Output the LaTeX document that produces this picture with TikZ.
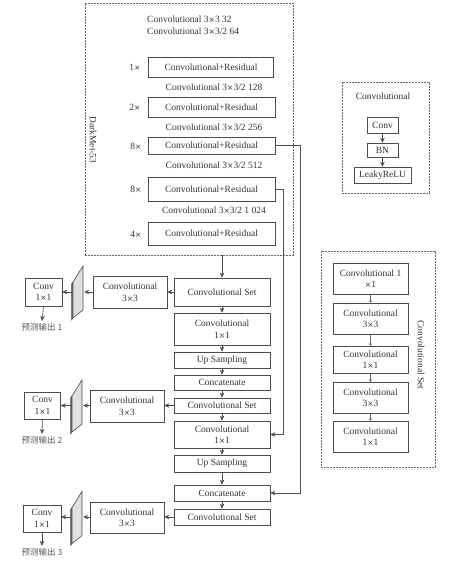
\documentclass[tikz,border=0pt]{standalone}
\usepackage{fontspec}
\setmainfont{Liberation Serif}
\newfontfamily\cjk{Noto Sans CJK SC}
\newfontfamily\symf{DejaVu Sans}[Scale=0.8]
\newcommand\tmx{{\symf ×}}
\usetikzlibrary{arrows.meta,calc}
\newcommand\myslab[1]{%
  \filldraw[fill=black!55,draw=black!70,line width=0.5pt]
    ($(#1.center)+(-5,-10)$) -- ($(#1.center)+(-6.5,-8)$) -- ($(#1.center)+(-6.5,28)$) -- ($(#1.center)+(-5,26)$) -- cycle;
  \filldraw[fill=black!12,draw=black!70,line width=0.6pt]
    ($(#1.center)+(-5,-10)$) -- ($(#1.center)+(5,-26)$) -- ($(#1.center)+(5,18)$) -- ($(#1.center)+(-5,26)$) -- cycle;}
\begin{document}
\begin{tikzpicture}[x=1pt,y=-1pt,
  every node/.style={font=\fontsize{9.5}{11.5}\selectfont, text=black!80},
  box/.style 2 args={draw=black!70, line width=0.6pt, inner sep=0pt, align=center,
    minimum width=#1, minimum height=#2},
  dashbox/.style={draw=black!60, line width=0.6pt, dash pattern=on 1.6pt off 1.4pt,
    inner sep=0pt, minimum width=#1},
  plain/.style={inner sep=0pt},
  slabn/.style={inner sep=0pt, minimum width=12pt, minimum height=52pt},
  cjkt/.style={font=\cjk\fontsize{8.5}{10}\selectfont, inner sep=2pt, text=black!65},
  arr/.style={draw=black!70, line width=0.6pt, -{Stealth[length=5pt,width=4.5pt]}},
  tarr/.style={draw=black!60, line width=0.5pt, -{To[length=2.5pt,width=3.5pt]}},
  line/.style={draw=black!70, line width=0.6pt}
]
\fill[white] (0,0) rectangle (450,563);
\useasboundingbox (0,0) rectangle (450,563);

% ---------------- DarkNet-53 ----------------
\node[dashbox=208, minimum height=252] (dark) at (189,129) {};
\node[plain, rotate=-90] (darklab) at (93,140) {DarkMet-53};
\node[plain, anchor=west] (t1) at (147,19) {Convolutional 3\tmx3 32};
\node[plain, anchor=west] (t2) at (147,31) {Convolutional 3\tmx3/2 64};
\node[box={125}{20}] (r1) at (211,67) {Convolutional+Residual};
\node[plain] (m1) at (135,67) {1\tmx};
\node[plain] (t3) at (214,87) {Convolutional 3\tmx3/2 128};
\node[box={127}{20}] (r2) at (211.5,107) {Convolutional+Residual};
\node[plain] (m2) at (135,107) {2\tmx};
\node[plain] (t4) at (214,127) {Convolutional 3\tmx3/2 256};
\node[box={127}{17}] (r3) at (211.5,145.5) {Convolutional+Residual};
\node[plain] (m3) at (136,146) {8\tmx};
\node[plain] (t5) at (214,165) {Convolutional 3\tmx3/2 512};
\node[box={127}{24}] (r4) at (211.5,189) {Convolutional+Residual};
\node[plain] (m4) at (136,189) {8\tmx};
\node[plain] (t6) at (214,210) {Convolutional 3\tmx3/2 1 024};
\node[box={127}{23}] (r5) at (211.5,233.5) {Convolutional+Residual};
\node[plain] (m5) at (136,234) {4\tmx};

% ---------------- Convolutional legend ----------------
\node[dashbox=87, minimum height=111] (cv) at (385.5,137.5) {};
\node[plain] (cvt) at (383,96) {Convolutional};
\node[box={31}{16}] (cvc) at (382.5,125) {Conv};
\node[box={31}{14}] (cvb) at (382.5,150) {BN};
\node[box={57}{16}] (cvl) at (382.5,175) {LeakyReLU};
\draw[arr] (cvc.south) -- (cvb.north);
\draw[arr] (cvb.south) -- (cvl.north);

% ---------------- Convolutional Set legend ----------------
\node[dashbox=114, minimum height=216] (csr) at (378,359) {};
\node[plain, rotate=-90] (csrl) at (421,355) {Convolutional Set};
\node[box={75}{31}] (b1) at (370.5,278.5) {Convolutional 1\\\tmx1};
\node[box={75}{31}] (b2) at (370.5,318.5) {Convolutional\\3\tmx3};
\node[box={75}{27}] (b3) at (370.5,359.5) {Convolutional\\1\tmx1};
\node[box={75}{31}] (b4) at (370.5,397.5) {Convolutional\\3\tmx3};
\node[box={75}{31}] (b5) at (370.5,436.5) {Convolutional\\1\tmx1};
\draw[tarr] (b1.south) -- (b2.north);
\draw[tarr] (b2.south) -- (b3.north);
\draw[tarr] (b3.south) -- (b4.north);
\draw[tarr] (b4.south) -- (b5.north);

% ---------------- Main column ----------------
\node[box={96}{28}] (cs1) at (222,292) {Convolutional Set};
\node[box={96}{32}] (cb1) at (222,329) {Convolutional\\1\tmx1};
\node[box={96}{16}] (up1) at (222,360) {Up Sampling};
\node[box={96}{15}] (cat1) at (222,382.5) {Concatenate};
\node[box={96}{15}] (cs2) at (222,405.5) {Convolutional Set};
\node[box={96}{27}] (cb2) at (222,434.5) {Convolutional\\1\tmx1};
\node[box={96}{17}] (up2) at (222,463.5) {Up Sampling};
\node[box={96}{16}] (cat2) at (222,493) {Concatenate};
\node[box={96}{16}] (cs3) at (222,517) {Convolutional Set};

\draw[arr] (dark.south -| cs1.north) -- (cs1.north);
\draw[arr] (cs1.south) -- (cb1.north);
\draw[arr] (cb1.south) -- (up1.north);
\draw[arr] (up1.south) -- (cat1.north);
\draw[arr] (cat1.south) -- (cs2.north);
\draw[arr] (cs2.south) -- (cb2.north);
\draw[arr] (cb2.south) -- (up2.north);
\draw[arr] (up2.south) -- (cat2.north);
\draw[arr] (cat2.south) -- (cs3.north);

% skip connections
\draw[arr] (r3.east) -- ++(25,0) |- (cat2.east);
\draw[arr] (r4.east) -- ++(8,0) |- (cb2.east);

% ---------------- Output branches ----------------
\node[box={74}{32}] (l1) at (130,292) {Convolutional\\3\tmx3};
\node[box={74}{32}] (l2) at (127,406) {Convolutional\\3\tmx3};
\node[box={74}{31}] (l3) at (127,517.5) {Convolutional\\3\tmx3};

\node[slabn] (s1) at (78,292) {};
\node[slabn] (s2) at (77,406) {};
\node[slabn] (s3) at (77,517.5) {};
\myslab{s1}
\myslab{s2}
\myslab{s3}

\node[box={37}{28}] (o1) at (43.5,292) {Conv\\1\tmx1};
\node[box={36}{27}] (o2) at (42.5,405.5) {Conv\\1\tmx1};
\node[box={38}{27}] (o3) at (42,518.5) {Conv\\1\tmx1};

\node[cjkt] (p1) at (42,327) {预测输出 1};
\node[cjkt] (p2) at (42,440) {预测输出 2};
\node[cjkt] (p3) at (42,552) {预测输出 3};

\draw[arr] (cs1.west) -- (l1.east);
\draw[arr] (l1.west) -- (s1.east);
\draw[arr] (s1.west) -- (o1.east);
\draw[arr] (o1.south) -- (p1.north);

\draw[arr] (cs2.west) -- (l2.east |- cs2.west);
\draw[arr] (l2.west |- cs2.west) -- (s2.east |- cs2.west);
\draw[arr] (s2.west |- cs2.west) -- (o2.east |- cs2.west);
\draw[arr] (o2.south) -- (p2.north);

\draw[arr] (cs3.west) -- (l3.east |- cs3.west);
\draw[arr] (l3.west |- cs3.west) -- (s3.east |- cs3.west);
\draw[arr] (s3.west |- cs3.west) -- (o3.east |- cs3.west);
\draw[arr] (o3.south) -- (p3.north);
\end{tikzpicture}
\end{document}
